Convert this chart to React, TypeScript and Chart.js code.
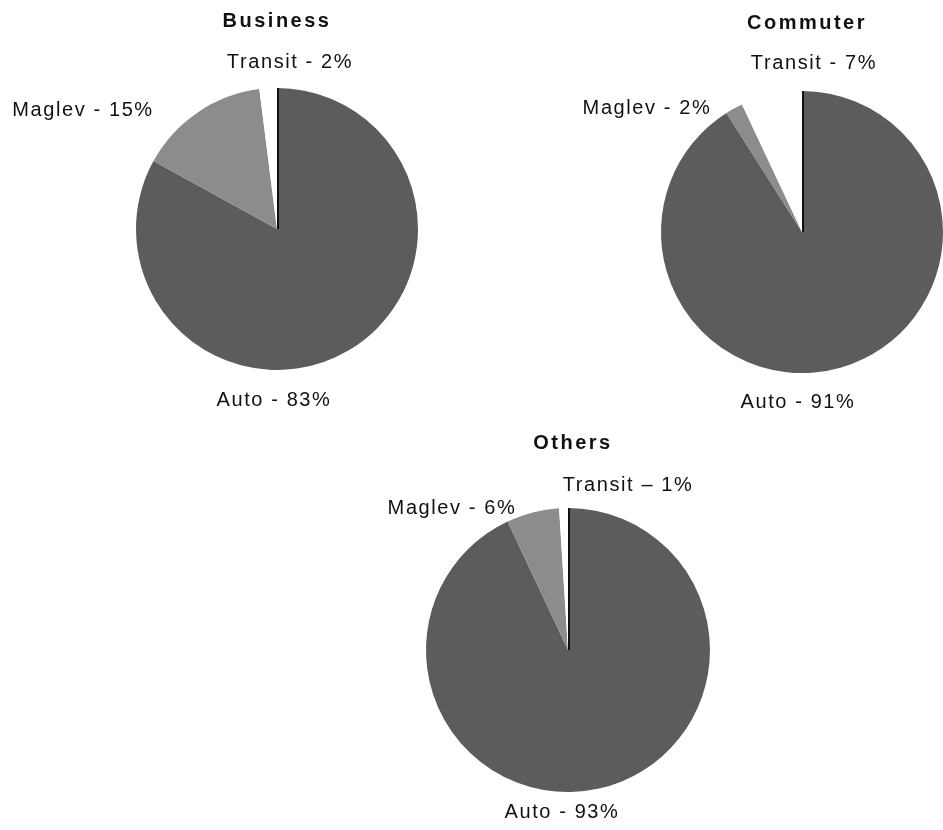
import React, { useEffect, useRef } from "react";
import { Chart, registerables } from "chart.js";

Chart.register(...registerables);

// ---- data ----
const categories = ["Auto", "Maglev", "Transit"];
const chartTitles = ["Business", "Commuter", "Others"];
const businessShares = [83, 15, 2];
const commuterShares = [91, 2, 7];
const othersShares = [93, 6, 1];
const businessDashes = ["-", "-", "-"];
const commuterDashes = ["-", "-", "-"];
const othersDashes = ["-", "-", "\u2013"];

// ---- styles / layout ----
const W = 943;
const H = 830;
const sliceColors = ["#5c5c5c", "#8c8c8c", "#ffffff"];
const FONT = "'Liberation Sans', Arial, Helvetica, sans-serif";

type Pt = [number, number];
interface PieLayout {
  cx: number;
  cy: number;
  r: number;
  title: Pt;
  labels: Pt[]; // centres for Auto, Maglev, Transit
}

const layouts: PieLayout[] = [
  { cx: 277, cy: 229, r: 141, title: [277, 21], labels: [[274, 400], [83, 110], [290, 62]] },
  { cx: 803, cy: 232, r: 142, title: [807, 23], labels: [[798, 402], [647, 108], [814, 63]] },
  { cx: 568, cy: 650, r: 142, title: [573, 443], labels: [[562, 812], [452, 508], [628, 485]] },
];

const seriesList = [businessShares, commuterShares, othersShares];
const dashList = [businessDashes, commuterDashes, othersDashes];

function PieChart({ idx }: { idx: number }) {
  const ref = useRef<HTMLCanvasElement | null>(null);
  useEffect(() => {
    const canvas = ref.current;
    if (!canvas) return;
    const lay = layouts[idx];
    const values = seriesList[idx];
    const dashes = dashList[idx];

    const textPlugin = {
      id: "pieText" + idx,
      afterDatasetsDraw(chart: any) {
        const ctx = chart.ctx as CanvasRenderingContext2D;
        const meta = chart.getDatasetMeta(0);
        // dark edge line at the start of the first (Auto) slice
        const arc = meta.data[0] as any;
        if (arc) {
          const a = arc.startAngle;
          ctx.save();
          ctx.strokeStyle = "#111";
          ctx.lineWidth = 2;
          ctx.beginPath();
          ctx.moveTo(arc.x + 1, arc.y);
          ctx.lineTo(arc.x + 1 + Math.cos(a) * arc.outerRadius, arc.y + Math.sin(a) * arc.outerRadius);
          ctx.stroke();
          ctx.restore();
        }
        ctx.save();
        ctx.textAlign = "center";
        ctx.textBaseline = "middle";
        ctx.fillStyle = "#111";
        (ctx as any).letterSpacing = "2.5px";
        ctx.font = `bold 20px ${FONT}`;
        ctx.fillText(chartTitles[idx], lay.title[0], lay.title[1]);
        ctx.font = `20px ${FONT}`;
        (ctx as any).letterSpacing = "1.6px";
        categories.forEach((c, i) => {
          const txt = `${c} ${dashes[i]} ${values[i]}%`;
          ctx.fillText(txt, lay.labels[i][0], lay.labels[i][1]);
        });
        ctx.restore();
      },
    };

    const chart = new Chart(canvas, {
      type: "pie",
      data: {
        labels: categories,
        datasets: [
          {
            data: values,
            backgroundColor: sliceColors,
            borderWidth: 0,
          },
        ],
      },
      options: {
        responsive: false,
        animation: false,
        layout: {
          padding: {
            left: lay.cx - lay.r,
            top: lay.cy - lay.r,
            right: W - (lay.cx + lay.r),
            bottom: H - (lay.cy + lay.r),
          },
        },
        plugins: {
          legend: { display: false },
          title: { display: false },
          tooltip: { enabled: false },
        },
      },
      plugins: [textPlugin],
    });
    return () => chart.destroy();
  }, [idx]);
  return (
    <canvas
      ref={ref}
      width={W}
      height={H}
      style={{ position: "absolute", left: 0, top: 0, width: W, height: H }}
    />
  );
}

export default function App() {
  return (
    <div style={{ position: "absolute", left: 0, top: 0, width: W, height: H, background: "#fff", overflow: "hidden" }}>
      <PieChart idx={0} />
      <PieChart idx={1} />
      <PieChart idx={2} />
    </div>
  );
}
